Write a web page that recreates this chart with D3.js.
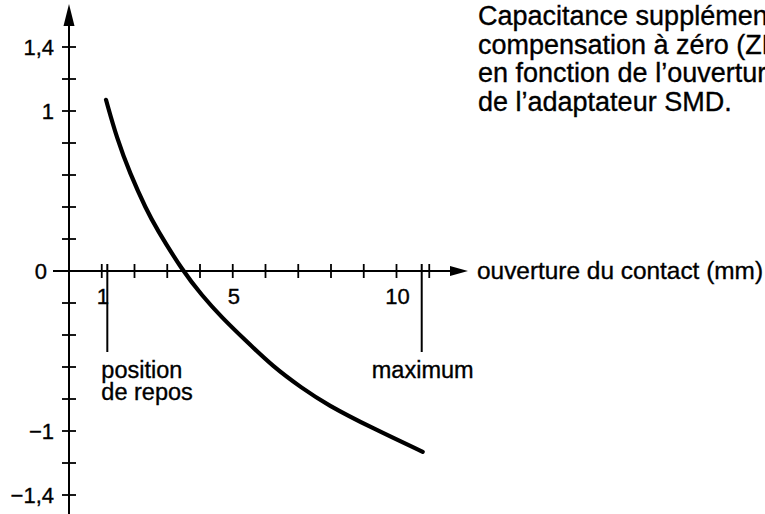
<!DOCTYPE html>
<html>
<head>
<meta charset="utf-8">
<script src="https://cdn.jsdelivr.net/npm/d3@7"></script>
<style>
  html, body { margin: 0; padding: 0; background: #fff; }
  svg { display: block; }
  text { font-family: "Liberation Sans", Arial, Helvetica, sans-serif; fill: #000; stroke: #000; stroke-width: 0.35px; }
</style>
</head>
<body>
<script>
// Opening of the contact (mm) and additional capacitance
const opening = [1.13, 1.46, 1.86, 2.37, 2.66, 3.47, 4.05, 4.66, 5.37, 6.24, 7.10, 7.87, 9.29, 10.8];
const capacitance = [1.07, 0.83, 0.61, 0.38, 0.27, 0.0, -0.15, -0.29, -0.43, -0.60, -0.73, -0.835, -0.985, -1.13];

const xTicks = [1, 2, 3, 4, 5, 6, 7, 8, 9, 10, 11];
const xTickLabels = [[1, "1"], [5, "5"], [10, "10"]];
const yTicks = [-1.4, -1.2, -1, -0.8, -0.6, -0.4, -0.2, 0.2, 0.4, 0.6, 0.8, 1, 1.2, 1.4];
const yTickLabels = [[1.4, "1,4"], [1, "1"], [0, "0"], [-1, "−1"], [-1.4, "−1,4"]];

// Marked positions on the opening axis
const markers = [[1.17, ["position", "de repos"]], [10.77, ["maximum"]]];

const titleLines = ["Capacitance supplémentaire de", "compensation à zéro (ZEROING)", "en fonction de l’ouverture du contact", "de l’adaptateur SMD."];
const xAxisTitle = "ouverture du contact (mm)";

const W = 765, H = 514;
const svg = d3.select("body").append("svg").attr("width", W).attr("height", H);

const x = d3.scaleLinear().domain([0, 11]).range([69, 429.25]);
const y = d3.scaleLinear().domain([-1.4, 1.4]).range([495, 47]);

const x0 = x(0), y0 = y(0);

// Axes lines
svg.append("line").attr("x1", x0).attr("x2", x0).attr("y1", 18).attr("y2", H)
  .attr("stroke", "#000").attr("stroke-width", 2);
svg.append("line").attr("x1", 53).attr("x2", 456).attr("y1", y0).attr("y2", y0)
  .attr("stroke", "#000").attr("stroke-width", 2);

// Arrow heads
svg.append("path").attr("d", `M${x0},4 L${x0 - 5.5},26 L${x0 + 5.5},26 Z`).attr("fill", "#000");
svg.append("path").attr("d", `M468,${y0} L450,${y0 - 5} L450,${y0 + 5} Z`).attr("fill", "#000");

// Y ticks
svg.append("g").selectAll("line").data(yTicks).join("line")
  .attr("x1", x0 - 7).attr("x2", x0 + 7)
  .attr("y1", d => y(d)).attr("y2", d => y(d))
  .attr("stroke", "#000").attr("stroke-width", 1.8);

// the zero label sits left of where the horizontal axis begins
svg.append("g").selectAll("text").data(yTickLabels).join("text")
  .attr("x", d => d[0] === 0 ? 47 : 54).attr("y", d => y(d[0]) + 7.5)
  .attr("text-anchor", "end").attr("font-size", 22)
  .text(d => d[1]);

// X ticks
svg.append("g").selectAll("line").data(xTicks).join("line")
  .attr("x1", d => x(d)).attr("x2", d => x(d))
  .attr("y1", y0 - 7).attr("y2", y0 + 7)
  .attr("stroke", "#000").attr("stroke-width", 1.8);

svg.append("g").selectAll("text").data(xTickLabels).join("text")
  .attr("x", d => x(d[0]) + 1).attr("y", y0 + 33)
  .attr("text-anchor", "middle").attr("font-size", 22)
  .text(d => d[1]);

// Marker lines with their labels
const mk = svg.append("g").selectAll("g").data(markers).join("g");
mk.append("line")
  .attr("x1", d => x(d[0])).attr("x2", d => x(d[0]))
  .attr("y1", y0 - 7).attr("y2", y0 + 81)
  .attr("stroke", "#000").attr("stroke-width", 2);
mk.each(function (d, i) {
  const g = d3.select(this);
  const lx = i === 0 ? x(d[0]) - 6 : x(d[0]) + 1;
  const t = g.append("text").attr("font-size", 23.5)
    .attr("text-anchor", i === 0 ? "start" : "middle");
  d[1].forEach((line, k) => {
    t.append("tspan").attr("x", lx).attr("y", y0 + 107 + k * 22).text(line);
  });
});

// X axis title
svg.append("text").attr("x", 477).attr("y", y0 + 8)
  .attr("font-size", 24.4).text(xAxisTitle);

// Chart title (top right)
const tt = svg.append("text").attr("font-size", 27);
titleLines.forEach((line, k) => {
  tt.append("tspan").attr("x", 478).attr("y", 25 + k * 28.5).text(line);
});

// Curve
const pts = opening.map((v, i) => [v, capacitance[i]]);
svg.append("path").datum(pts)
  .attr("d", d3.line().x(d => x(d[0])).y(d => y(d[1])).curve(d3.curveBasis))
  .attr("fill", "none").attr("stroke", "#000").attr("stroke-width", 4.2)
  .attr("stroke-linecap", "round");
</script>
</body>
</html>
